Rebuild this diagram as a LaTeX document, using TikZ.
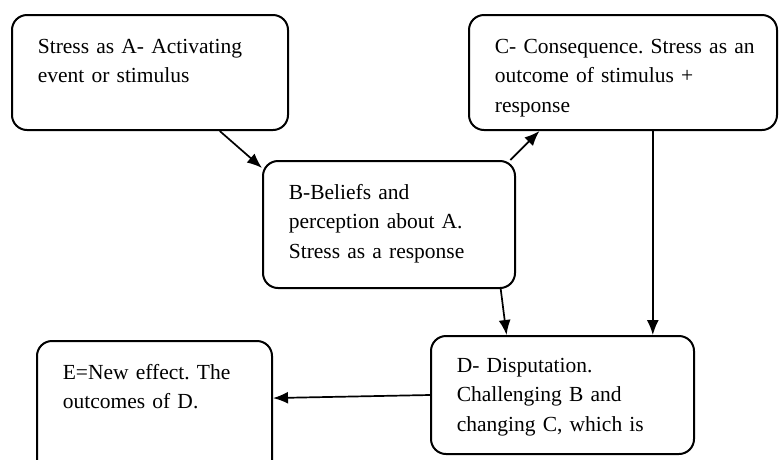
\documentclass[tikz,border=0pt]{standalone}
\usepackage{fontspec}
\setmainfont{Liberation Serif}
\usetikzlibrary{arrows.meta,positioning}
\frenchspacing

\begin{document}
\begin{tikzpicture}[
        x=1pt, y=1pt,
        line width=1.7pt,
        box/.style={draw,line width=2pt,rounded corners=15pt,inner sep=0pt},
        txt/.style={inner sep=0pt,text width=270pt,align=left,font=\fontsize{21.5}{29.5}\selectfont},
        >={Latex[length=15pt,width=12pt]} % arrow tips
    ]
        \useasboundingbox (0,0) rectangle (779,-459);

        % boxes
        \node (A) [box,minimum width=276pt,minimum height=115pt] at (150,-72.5) {};
        \node (C) [box,minimum width=308pt,minimum height=115pt] at (623,-72.5) {};
        \node (B) [box,minimum width=252pt,minimum height=127pt] at (389,-224.5) {};
        \node (D) [box,minimum width=263pt,minimum height=118pt] at (562.5,-395) {};
        \node (E) [box,minimum width=235pt,minimum height=139pt] at (154.5,-410.5) {};

        % texts
        \node (At) [txt,below right=39pt and 26pt of A.north west,anchor=base west] {Stress as A- Activating\\event or stimulus};
        \node (Ct) [txt,below right=39pt and 26pt of C.north west,anchor=base west] {C- Consequence. Stress as an\\outcome of stimulus +\\response};
        \node (Bt) [txt,below right=39pt and 26pt of B.north west,anchor=base west] {B-Beliefs and\\perception about A.\\Stress as a response};
        \node (Dt) [txt,below right=37pt and 26pt of D.north west,anchor=base west] {D- Disputation.\\Challenging B and\\changing C, which is};
        \node (Et) [txt,below right=39pt and 26pt of E.north west,anchor=base west] {E=New effect. The\\outcomes of D.};

        % arrows
        \draw [->] (A.-40) -- (B.156);
        \draw [->] (B.28) -- (C.-145);
        \draw [->] (C.-63) -- (C.-63 |- D.north);
        \draw [->] (B.-30) -- (D.133);
        \draw [->] (D.west) -- (E.6);
    \end{tikzpicture}
\end{document}
